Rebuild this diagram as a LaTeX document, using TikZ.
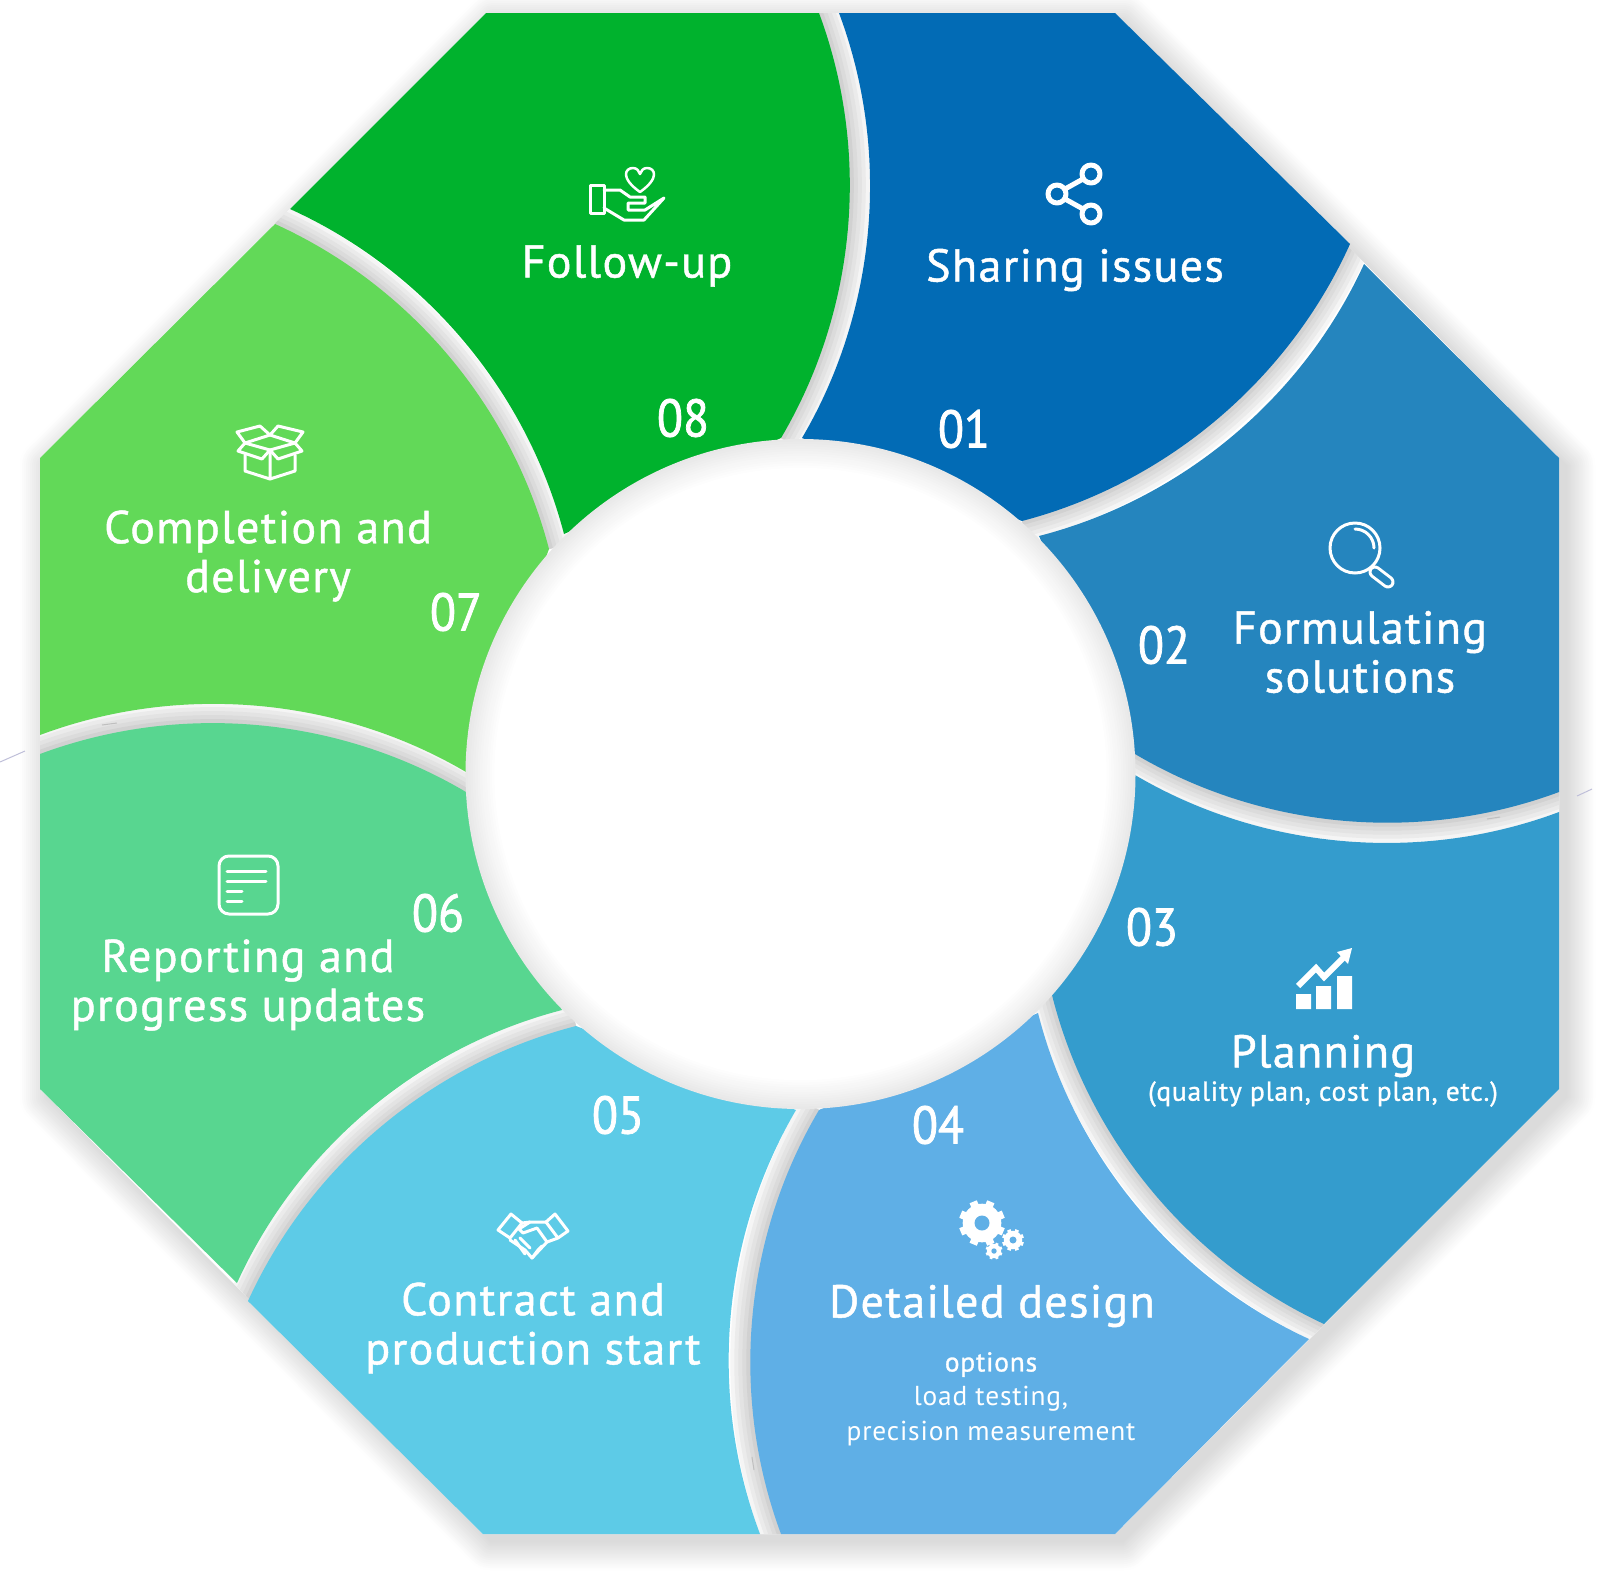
\documentclass[tikz,border=0pt]{standalone}
\usepackage{fontspec}
\setmainfont{PT Sans}[LetterSpace=3]
\newfontfamily\medfont{PT Sans}[LetterSpace=3,FakeBold=1]
\newfontfamily\numfont{PT Sans}[FakeBold=1.4,FakeStretch=0.9]
\usetikzlibrary{positioning}

\definecolor{segone}{HTML}{026BB5}
\definecolor{segtwo}{HTML}{2585BE}
\definecolor{segthree}{HTML}{349CCD}
\definecolor{segfour}{HTML}{5FAFE6}
\definecolor{segfive}{HTML}{5DCBE7}
\definecolor{segsix}{HTML}{58D690}
\definecolor{segseven}{HTML}{62D958}
\definecolor{segeight}{HTML}{00B22D}

\tikzset{
  title/.style = {text=white, align=center, font=\fontsize{46}{49}\medfont},
  small/.style = {text=white, align=center, font=\fontsize{27.4}{34.5}\selectfont},
  number/.style = {text=white, font=\fontsize{53}{53}\numfont},
  icon/.style = {draw=white, line width=3pt, line join=round, line cap=round},
  convex/.style = {bend left=25.5, looseness=0.89},
  concave/.style = {bend right=25.5, looseness=0.89},
}

\newcommand{\gearicon}[4]{% centre, radius, hole, colour
  \fill[white] (#1) circle (0.84*#2pt);
  \foreach \a in {0,45,...,315}
    \draw[white, line width=0.34*#2pt] (#1) -- ++(\a+22.5:#2pt);
  \fill[#4] (#1) circle (#3pt);
}

\begin{document}
\begin{tikzpicture}[x=1pt,y=-1pt]
\useasboundingbox (0,0) rectangle (1600,1572);
\fill[white] (0,0) rectangle (1600,1572);

% outline corners
\coordinate (o1) at (486,13);
\coordinate (o2) at (1115,13);
\coordinate (o3) at (1559,458);
\coordinate (o4) at (1559,1089);
\coordinate (o5) at (1115,1534);
\coordinate (o6) at (483,1534);
\coordinate (o7) at (40,1089);
\coordinate (o8) at (40,458);

% soft shadow round the octagon
\begin{scope}[transform canvas={shift={(8pt,-8pt)}}]
\foreach \i in {0,...,13}
  \draw[line width={56-4*\i}, black!\fpeval{0.5+\i}, line join=round] (o1) -- (o2) -- (o3) -- (o4) -- (o5) -- (o6) -- (o7) -- (o8) -- cycle;
\fill[black!14] (o1) -- (o2) -- (o3) -- (o4) -- (o5) -- (o6) -- (o7) -- (o8) -- cycle;
\end{scope}

% ends of the curved edges
\coordinate (a1) at (1350,244);  \coordinate (b1) at (1022,521);
\coordinate (a2) at (1559,792);  \coordinate (b2) at (1135,754);
\coordinate (a3) at (1324,1324); \coordinate (b3) at (1052,995);
\coordinate (a4) at (781,1534);  \coordinate (b4) at (819,1110);
\coordinate (a5) at (248,1301);  \coordinate (b5) at (576,1026);
\coordinate (a6) at (40,754);    \coordinate (b6) at (466,792);
\coordinate (a7) at (275,224);   \coordinate (b7) at (549,549);
\coordinate (a8) at (819,13);    \coordinate (b8) at (781,438);

% grey in the gaps
\fill[white] (o1) -- (o2) -- (o3) -- (o4) -- (o5) -- (o6) -- (o7) -- (o8) -- cycle;
\begin{scope}
\clip (o1) -- (o2) -- (o3) -- (o4) -- (o5) -- (o6) -- (o7) -- (o8) -- cycle;
\foreach \p/\q in {a1/b1,a2/b2,a3/b3,a4/b4,a5/b5,a6/b6,a7/b7,a8/b8}
  \foreach \w/\g in {40/4,32/8,24/11,16/14,8/18}
    \draw[line width=\w pt, black!\g] (\p) to[convex] (\q);
\end{scope}

% segments
\fill[segone] (839,13) -- (o2) -- (a1) to[convex] (b1) -- (802,438) to[concave] cycle;
\fill[segtwo] (1364,264) -- (o3) -- (a2) to[convex] (b2) -- (1039,536) to[concave] cycle;
\fill[segthree] (1559,812) -- (o4) -- (a3) to[convex] (b3) -- (1135,775) to[concave] cycle;
\fill[segfour] (1309,1339) -- (o5) -- (a4) to[convex] (b4) -- (1038,1013) to[concave] cycle;
\fill[segfive] (760,1534) -- (o6) -- (a5) to[convex] (b5) -- (796,1110) to[concave] cycle;
\fill[segsix] (237,1283) -- (o7) -- (a6) to[convex] (b6) -- (562,1010) to[concave] cycle;
\fill[segseven] (40,735) -- (o8) -- (a7) to[convex] (b7) -- (466,772) to[concave] cycle;
\fill[segeight] (290,209) -- (o1) -- (a8) to[convex] (b8) -- (564,534) to[concave] cycle;

% centre
\foreach \i in {0,...,12}
  \fill[black!\fpeval{max(9-0.75*\i,0)}] (800.5,774) circle ({335-2.4*\i});

% labels
\node[title] (t1) at (1075,270) {Sharing issues};
\node[title] (t2) at (1360,652) {Formulating\\solutions};
\node[title] (t3) at (1323,1056) {Planning};
\node[small] (s3) at (1323,1094) {\medfont (quality plan, cost plan, etc.)};
\node[title] (t4) at (992,1306) {Detailed design};
\node[small] (s4) at (991,1399) {{\medfont options}\\load testing,\\precision measurement};
\node[title] (t5) at (533,1328) {Contract and\\production start};
\node[title] (t6) at (248,985) {Reporting and\\progress updates};
\node[title] (t7) at (268,556) {Completion and\\delivery};
\node[title] (t8) at (627,266) {Follow-up};

\node[number] (n1) at (964,429) {01};
\node[number] (n2) at (1164,645) {02};
\node[number] (n3) at (1152,927) {03};
\node[number] (n4) at (938,1125) {04};
\node[number] (n5) at (618,1115) {05};
\node[number] (n6) at (438,913) {06};
\node[number] (n7) at (456,612) {07};
\node[number] (n8) at (683,418) {08};

% share
\draw[icon, line width=5pt] (1091,174) circle (9pt) (1057,194) circle (9pt) (1091,214) circle (9pt);
\draw[icon, line width=5pt] (1065,189) -- (1083,179) (1065,199) -- (1083,209);

% magnifier
\draw[icon] (1355,548) circle (25pt);
\draw[icon] (1355,529) arc[start angle=90, end angle=0, radius=19pt];
\draw[white, line width=13pt, line cap=round] (1375,572) -- (1388,582);
\draw[segtwo, line width=7pt, line cap=round] (1375,572) -- (1388,582);

% chart
\fill[white] (1296,994) rectangle (1311,1009) (1316,986) rectangle (1331,1009) (1337,976) rectangle (1352,1009);
\draw[white, line width=6pt] (1298,986) -- (1316,968) -- (1324,977) -- (1345,956);
\fill[white] (1352,948) -- (1337,952) -- (1348,964) -- cycle;

% gears
\gearicon{982,1223}{23}{7.5}{segfour}
\gearicon{1013,1240}{11}{3.5}{segfour}
\gearicon{994,1251}{8.5}{2.7}{segfour}

% handshake
\draw[icon] (511,1214) -- (522,1223) -- (510,1238) -- (498,1230) -- cycle;
\draw[icon] (555,1214) -- (568,1231) -- (558,1238) -- (546,1222) -- cycle;
\draw[icon] (546,1222) -- (530,1222) -- (519,1229) -- (523,1233) -- (537,1228) -- (547,1242) -- (558,1238);
\draw[icon] (547,1242) -- (532,1258) -- (525,1250) -- (510,1240);
\draw[icon] (522,1223) -- (530,1222);
\draw[icon] (515,1240) -- (525,1254) (520,1238) -- (530,1248) (532,1258) -- (538,1250) -- (542,1246);

% report
\draw[icon, rounded corners=10pt] (219,856) rectangle (278,914);
\draw[icon] (227,871) -- (266,871) (227,881) -- (266,881) (227,891) -- (242,891) (227,901) -- (242,901);

% box
\draw[icon] (270,435) -- (260,426) -- (237,432) -- (245,443) -- cycle;
\draw[icon] (270,435) -- (278,426) -- (303,432) -- (295,443) -- cycle;
\draw[icon] (245,443) -- (238,451) -- (262,459) -- (270,450) -- cycle;
\draw[icon] (295,443) -- (302,451) -- (278,459) -- (270,450) -- cycle;
\draw[icon] (245,455) -- (245,471) -- (270,479) -- (295,471) -- (295,455) (270,450) -- (270,479);

% hand and heart
\draw[icon] (590,185) rectangle (604,213);
\draw[icon] (604,190) -- (620,190) -- (630,197) -- (645,197) -- (645,203) -- (628,203) -- (628,210) -- (645,210) -- (664,198) -- (644,220) -- (624,220) -- (604,208);
\draw[icon, line width=2.5pt] (640,192) .. controls (620,178) and (625,168) .. (633,168) .. controls (637,168) and (639,171) .. (640,174) .. controls (641,171) and (643,168) .. (647,168) .. controls (655,168) and (660,178) .. (640,192);

% stray marks
\draw[blue!25!gray!40, line width=1pt] (0,762) -- (25,751) (1577,796) -- (1592,789);
\draw[gray!50, line width=1pt] (102,725) -- (117,723) (1487,819) -- (1500,817) (752,1457) -- (754,1470);
\end{tikzpicture}
\end{document}
